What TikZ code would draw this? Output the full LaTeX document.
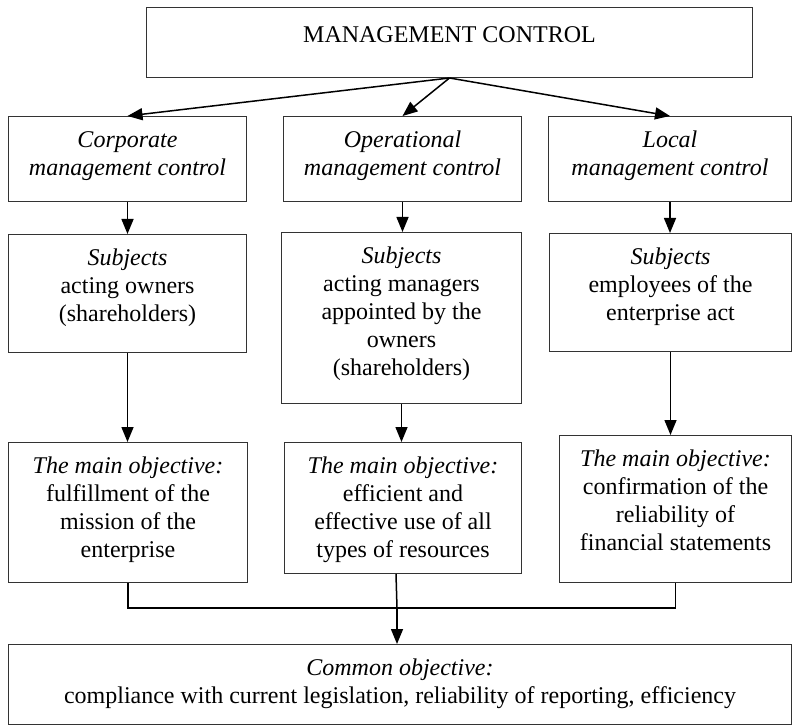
\documentclass[tikz,border=0pt]{standalone}
\usepackage{fontspec}
\setmainfont{Liberation Serif}
\usetikzlibrary{arrows.meta}
\newcommand{\blkfont}{\fontsize{24pt}{28pt}\selectfont}

\begin{document}
\begin{tikzpicture} [x=1pt,y=-1pt,
        >={Triangle[length=15pt,width=12pt]},
        blk/.style 2 args={
            draw=black!80,
            line width=1pt,
            inner sep=0pt,
            anchor=north west,
            execute at begin node={\begin{minipage}[c][#2pt][t]{#1pt}\blkfont\centering\vspace*{11pt}\strut},
            execute at end node={\end{minipage}}},
        link/.style={
            line width=1.5pt}]

    \useasboundingbox (0,0) rectangle (792,727);

    % top box
    \node[blk={606}{70}] (top) at (146,7) {\raisebox{-4pt}{MANAGEMENT CONTROL}};

    % kinds of control
    \node[blk={238}{85}] (corp) at (8,116) {\textit{Corporate}\\\textit{management control}};
    \node[blk={238}{85}] (oper) at (283,116) {\textit{Operational}\\\textit{management control}};
    \node[blk={243}{85}] (locl) at (548,116) {\textit{Local}\\\textit{management control}};
    \draw[->,link] (top.south) -> (corp.north);
    \draw[->,link] (top.south) -> (oper.north);
    \draw[->,link] (top.south) -> (locl.north);

    % subjects
    \node[blk={238}{118}] (subj1) at (8,234) {\textit{Subjects}\\acting owners\\(shareholders)};
    \node[blk={240}{171}] (subj2) at (281,232) {\textit{Subjects}\\acting managers\\appointed by the\\owners\\(shareholders)};
    \node[blk={242}{118}] (subj3) at (549,233) {\textit{Subjects}\\employees of the\\enterprise act};
    \draw[->,link] (corp.south) -> (corp.south |- subj1.north);
    \draw[->,link] (oper.south) -> (oper.south |- subj2.north);
    \draw[->,link] (locl.south) -> (locl.south |- subj3.north);

    % main objectives
    \node[blk={239}{140}] (obj1) at (8,442) {\textit{The main objective:}\\fulfillment of the\\mission of the\\enterprise};
    \node[blk={237}{131}] (obj2) at (284,442) {\textit{The main objective:}\\efficient and\\effective use of all\\types of resources};
    \node[blk={232}{147}] (obj3) at (559,435) {\textit{The main objective:}\\confirmation of the\\reliability of\\financial statements};
    \draw[->,link] (subj1.south) -> (subj1.south |- obj1.north);
    \draw[->,link] (subj2.south) -> (subj2.south |- obj2.north);
    \draw[->,link] (subj3.south) -> (subj3.south |- obj3.north);

    % common objective
    \node[blk={783}{80}] (common) at (8,644) {\textit{Common objective:}\\compliance with current legislation, reliability of reporting, efficiency};
    \coordinate (join) at (397,608);
    \draw[link] (obj1.south) |- (join) -| (obj3.south);
    \draw[link] ([xshift=-7pt]obj2.south) -- (join);
    \draw[->,link] (join) -> (join |- common.north);

\end{tikzpicture}
\end{document}
